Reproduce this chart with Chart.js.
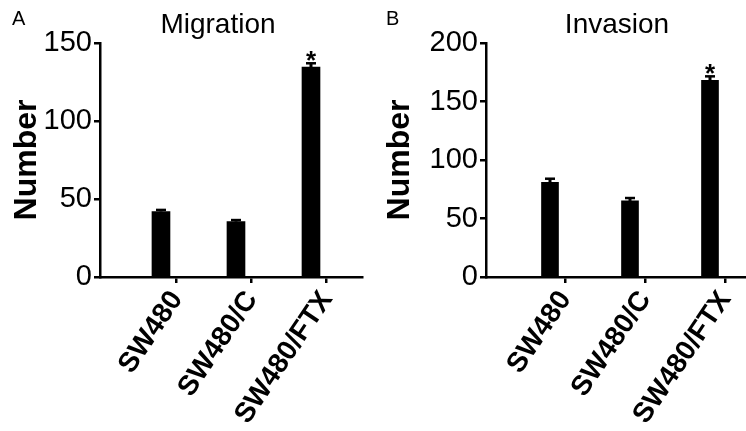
<!DOCTYPE html>
<html>
<head>
<meta charset="utf-8">
<script src="https://cdn.jsdelivr.net/npm/chart.js@4"></script>
<style>
  body { margin: 0; background: #fff; }
  .panel { position: absolute; top: 0; width: 373px; height: 431px; }
</style>
</head>
<body>
<div class="panel" style="left:0"><canvas id="chartA" width="373" height="431"></canvas></div>
<div class="panel" style="left:373px"><canvas id="chartB" width="373" height="431"></canvas></div>
<script>
  const categories = ['SW480', 'SW480/C', 'SW480/FTX'];
  const migration = [42, 35.5, 134.5];
  const migrationErr = [1, 1, 2.5];
  const invasion = [81, 65, 168];
  const invasionErr = [3, 2.5, 3.5];
  const significant = [false, false, true];
  const migrationTicks = [0, 50, 100, 150];
  const invasionTicks = [0, 50, 100, 150, 200];

  const FONT = "'Liberation Sans', Arial, sans-serif";

  // error bars + asterisk, drawn from the bar elements
  const errorBars = {
    id: 'errorBars',
    afterDatasetsDraw(chart, args, opts) {
      const ctx = chart.ctx;
      const yScale = chart.scales.y;
      const meta = chart.getDatasetMeta(0);
      const values = chart.data.datasets[0].data;
      ctx.save();
      ctx.strokeStyle = '#000';
      ctx.fillStyle = '#000';
      meta.data.forEach((bar, i) => {
        const top = yScale.getPixelForValue(values[i].y + opts.err[i]);
        ctx.lineWidth = 3;
        ctx.beginPath();
        ctx.moveTo(bar.x, bar.y);
        ctx.lineTo(bar.x, top);
        ctx.stroke();
        ctx.lineWidth = 2.5;
        ctx.beginPath();
        ctx.moveTo(bar.x - 5, top);
        ctx.lineTo(bar.x + 5, top);
        ctx.stroke();
        if (significant[i]) {
          ctx.font = 'bold 26px ' + FONT;
          ctx.textAlign = 'center';
          ctx.textBaseline = 'alphabetic';
          ctx.fillText('*', bar.x, top + 6);
        }
      });
      ctx.restore();
    }
  };

  const panelText = {
    id: 'panelText',
    afterDraw(chart, args, opts) {
      const ctx = chart.ctx;
      ctx.save();
      ctx.fillStyle = '#000';
      ctx.textBaseline = 'alphabetic';
      ctx.font = '20px ' + FONT;
      ctx.textAlign = 'left';
      ctx.fillText(opts.letter, opts.letterX, 25);
      ctx.font = '28px ' + FONT;
      ctx.textAlign = 'center';
      ctx.fillText(opts.title, opts.titleX, 33);
      ctx.restore();
    }
  };

  function makeChart(id, values, errs, yTicks, p) {
    const tickPos = categories.map((c, i) => i + 1 + p.tickShift);
    return new Chart(document.getElementById(id), {
      type: 'bar',
      data: {
        datasets: [{
          data: values.map((v, i) => ({ x: i + 1, y: v })),
          backgroundColor: '#000',
          borderWidth: 0,
          barThickness: p.barWidth
        }]
      },
      options: {
        responsive: false,
        animation: false,
        layout: { padding: { top: 43, right: p.padRight, left: 0, bottom: 0 } },
        plugins: {
          legend: { display: false },
          tooltip: { enabled: false },
          errorBars: { err: errs },
          panelText: { letter: p.letter, letterX: p.letterX, title: p.title, titleX: p.titleX }
        },
        scales: {
          x: {
            type: 'linear',
            bounds: 'data',
            offset: false,
            min: p.xMin,
            max: p.xMax,
            afterBuildTicks: s => { s.ticks = tickPos.map(v => ({ value: v })); },
            afterFit: s => { s.height = 154; s.paddingLeft = 0; s.paddingRight = 0; },
            ticks: {
              autoSkip: false,
              minRotation: 56,
              maxRotation: 56,
              padding: 2,
              color: '#000',
              font: { family: FONT, size: 28, weight: 'bold' },
              callback: v => {
                const i = tickPos.findIndex(t => Math.abs(t - v) < 0.01);
                return i >= 0 ? categories[i] : '';
              }
            },
            grid: { offset: false, drawOnChartArea: false, color: '#000', lineWidth: 2.5, tickLength: 6 },
            border: { color: '#000', width: 2.5 }
          },
          y: {
            min: 0,
            max: yTicks[yTicks.length - 1],
            afterBuildTicks: s => { s.ticks = yTicks.map(v => ({ value: v })); },
            afterFit: s => { s.width = p.yWidth; },
            ticks: { padding: 2, color: '#000', font: { family: FONT, size: 29 } },
            grid: { drawOnChartArea: false, color: '#000', lineWidth: 2.5, tickLength: 6 },
            border: { color: '#000', width: 2.5 },
            title: {
              display: true,
              text: 'Number',
              color: '#000',
              padding: { top: 8, bottom: 0 },
              font: { family: FONT, size: 32, weight: 'bold' }
            }
          }
        }
      },
      plugins: [errorBars, panelText]
    });
  }

  makeChart('chartA', migration, migrationErr, migrationTicks, {
    letter: 'A', letterX: 12, title: 'Migration', titleX: 218,
    xMin: 0.187, xMax: 3.68, tickShift: 0.21, barWidth: 18,
    yWidth: 100, padRight: 11
  });

  makeChart('chartB', invasion, invasionErr, invasionTicks, {
    letter: 'B', letterX: 13, title: 'Invasion', titleX: 244,
    xMin: 0.2, xMax: 3.45, tickShift: 0.19, barWidth: 17,
    yWidth: 113, padRight: 0
  });
</script>
</body>
</html>
